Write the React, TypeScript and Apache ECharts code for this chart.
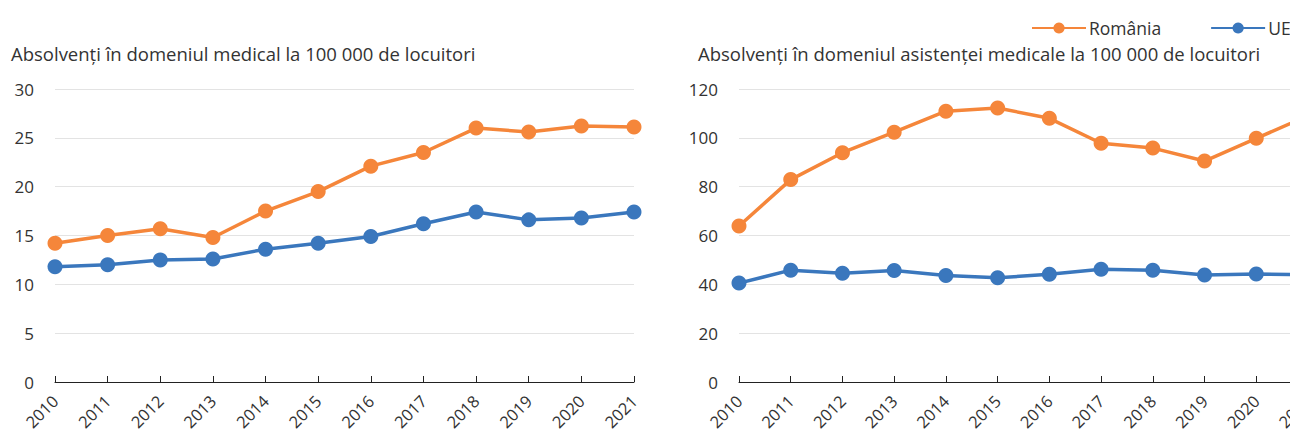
import React, { useEffect, useRef } from "react";
import * as echarts from "echarts";

const years = ["2010", "2011", "2012", "2013", "2014", "2015", "2016", "2017", "2018", "2019", "2020", "2021"];
const medRomania = [14.2, 15.0, 15.7, 14.8, 17.5, 19.5, 22.1, 23.5, 26.0, 25.6, 26.2, 26.1];
const medEU = [11.8, 12.0, 12.5, 12.6, 13.6, 14.2, 14.9, 16.2, 17.4, 16.6, 16.8, 17.4];
const nurseRomania = [63.9, 82.9, 93.9, 102.3, 110.9, 112.2, 108.0, 97.8, 95.8, 90.5, 99.8, 109];
const nurseEU = [40.5, 45.8, 44.5, 45.7, 43.6, 42.7, 44.1, 46.2, 45.8, 43.8, 44.2, 44.0];
const seriesNames = ["România", "UE"];
const titles = [
  "Absolvenți în domeniul medical la 100 000 de locuitori",
  "Absolvenți în domeniul asistenței medicale la 100 000 de locuitori",
];

const ORANGE = "#F5863A";
const BLUE = "#3A77BD";
const FONT = "Open Sans";
const TEXT = "#333333";

export default function App() {
  const ref = useRef<HTMLDivElement>(null);
  useEffect(() => {
    if (!ref.current) return;
    const chart = echarts.init(ref.current, null, { renderer: "svg" });
    const xAxisBase = (gridIndex: number) => ({
      type: "category" as const,
      gridIndex,
      data: years,
      boundaryGap: false,
      axisLine: { show: true, lineStyle: { color: "#222", width: 1 } },
      axisTick: { show: true, inside: true, length: 6, lineStyle: { color: "#222" } },
      axisLabel: { rotate: 45, fontSize: 16.5, color: TEXT, fontFamily: FONT, margin: 16, interval: 0 },
    });
    const yAxisBase = (gridIndex: number, max: number, interval: number) => ({
      type: "value" as const,
      gridIndex,
      min: 0,
      max,
      interval,
      axisLine: { show: false },
      axisTick: { show: false },
      splitLine: { lineStyle: { color: "#e3e3e3", width: 1 } },
      axisLabel: { fontSize: 17, color: TEXT, fontFamily: FONT, margin: 21 },
    });
    const lineSeries = (name: string, data: number[], color: string, idx: number) => ({
      name,
      type: "line" as const,
      xAxisIndex: idx,
      yAxisIndex: idx,
      data,
      symbol: "circle",
      symbolSize: 15,
      lineStyle: { color, width: 3.5 },
      itemStyle: { color },
    });
    chart.setOption({
      animation: false,
      backgroundColor: "#ffffff",
      legend: {
        data: seriesNames,
        left: 1026,
        top: 14,
        orient: "horizontal",
        itemWidth: 54,
        itemHeight: 14,
        itemGap: 49,
        textStyle: { fontSize: 17.5, color: TEXT, fontFamily: FONT, padding: [0, 0, 0, -2] },
      },
      title: [
        { text: titles[0], left: 11, top: 44, textStyle: { fontSize: 18.5, fontWeight: "normal", color: TEXT, fontFamily: FONT }, padding: 0 },
        { text: titles[1], left: 698, top: 44, textStyle: { fontSize: 18.5, fontWeight: "normal", color: TEXT, fontFamily: FONT }, padding: 0 },
      ],
      grid: [
        { left: 55, top: 89, width: 579, height: 293, containLabel: false },
        { left: 739, top: 89, width: 569, height: 293, containLabel: false },
      ],
      xAxis: [xAxisBase(0), xAxisBase(1)],
      yAxis: [yAxisBase(0, 30, 5), yAxisBase(1, 120, 20)],
      series: [
        lineSeries(seriesNames[0], medRomania, ORANGE, 0),
        lineSeries(seriesNames[1], medEU, BLUE, 0),
        lineSeries(seriesNames[0], nurseRomania, ORANGE, 1),
        lineSeries(seriesNames[1], nurseEU, BLUE, 1),
      ],
    });
    return () => chart.dispose();
  }, []);
  return (
    <div style={{ position: "absolute", left: 0, top: 0, width: 1290, height: 438, overflow: "hidden" }}>
      <div ref={ref} style={{ width: 1360, height: 438 }} />
    </div>
  );
}
